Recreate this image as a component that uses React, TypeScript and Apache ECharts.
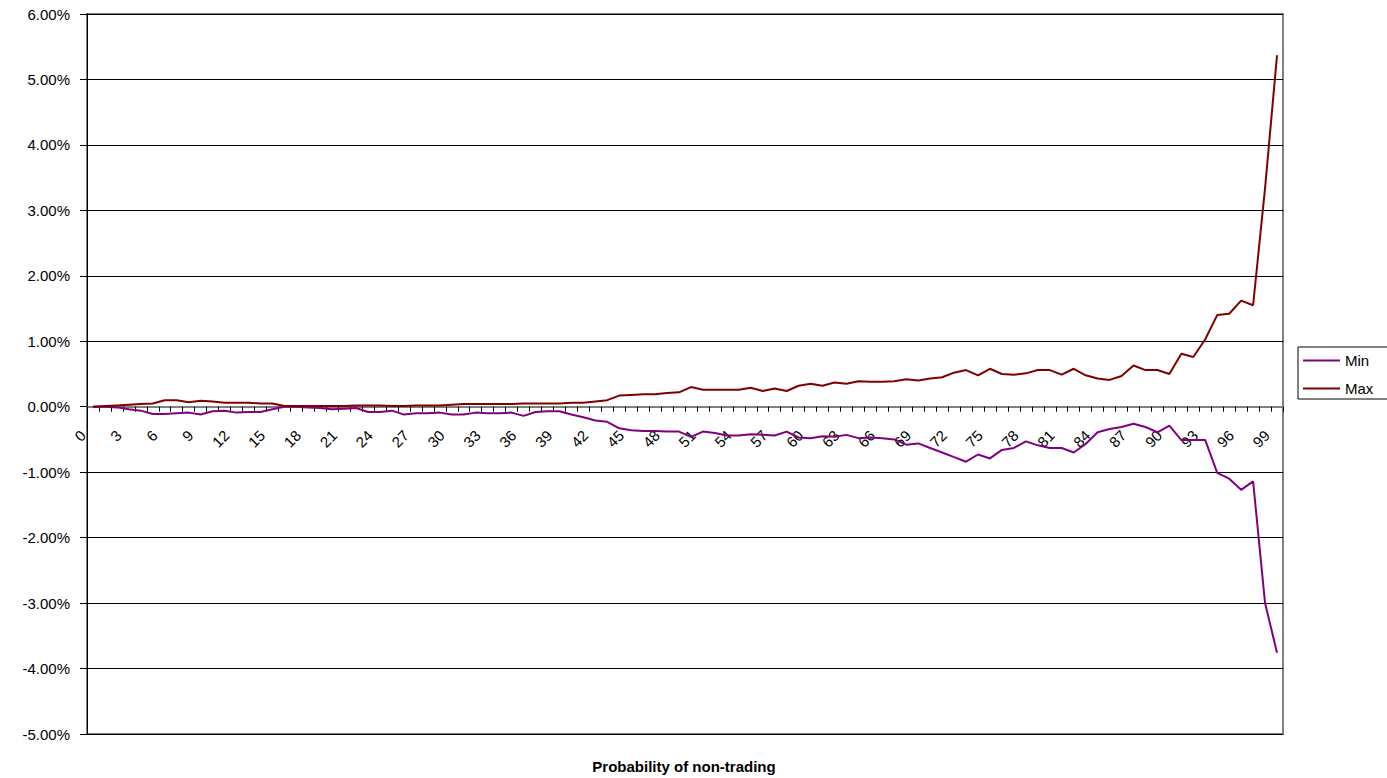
import React, { useEffect, useRef } from "react";
import * as echarts from "echarts";

const categories: string[] = Array.from({ length: 100 }, (_, i) => String(i));

const minValues: number[] = [
  0.0, 0.0, -0.01, -0.04, -0.06, -0.11, -0.11, -0.1, -0.09, -0.12,
  -0.07, -0.06, -0.09, -0.08, -0.08, -0.04, 0.0, 0.0, -0.01, -0.02,
  -0.04, -0.03, -0.02, -0.08, -0.08, -0.06, -0.12, -0.1, -0.1, -0.09,
  -0.12, -0.12, -0.09, -0.1, -0.1, -0.09, -0.14, -0.08, -0.07, -0.07,
  -0.12, -0.16, -0.21, -0.23, -0.33, -0.36, -0.37, -0.37, -0.38, -0.38,
  -0.46, -0.38, -0.4, -0.44, -0.44, -0.42, -0.43, -0.44, -0.38, -0.47,
  -0.48, -0.45, -0.46, -0.43, -0.48, -0.47, -0.48, -0.5, -0.58, -0.56,
  -0.63, -0.7, -0.77, -0.84, -0.73, -0.79, -0.66, -0.63, -0.53, -0.59,
  -0.63, -0.63, -0.7, -0.57, -0.39, -0.34, -0.31, -0.26, -0.31, -0.39,
  -0.29, -0.51, -0.51, -0.51, -1.01, -1.1, -1.27, -1.14, -3.0, -3.76,
];

const maxValues: number[] = [
  0.0, 0.01, 0.02, 0.03, 0.04, 0.05, 0.1, 0.1, 0.07, 0.09,
  0.08, 0.06, 0.06, 0.06, 0.05, 0.05, 0.01, 0.01, 0.01, 0.01,
  0.01, 0.01, 0.02, 0.02, 0.02, 0.01, 0.01, 0.02, 0.02, 0.02,
  0.03, 0.04, 0.04, 0.04, 0.04, 0.04, 0.05, 0.05, 0.05, 0.05,
  0.06, 0.06, 0.08, 0.1, 0.17, 0.18, 0.19, 0.19, 0.21, 0.22,
  0.3, 0.26, 0.26, 0.26, 0.26, 0.29, 0.24, 0.28, 0.24, 0.32,
  0.35, 0.32, 0.37, 0.35, 0.39, 0.38, 0.38, 0.39, 0.42, 0.4,
  0.43, 0.45, 0.52, 0.56, 0.48, 0.58, 0.5, 0.49, 0.51, 0.56,
  0.56, 0.49, 0.58, 0.48, 0.43, 0.41, 0.47, 0.63, 0.56, 0.56,
  0.5, 0.81, 0.76, 1.03, 1.4, 1.42, 1.62, 1.55, 3.34, 5.37,
];

const seriesNames: string[] = ["Min", "Max"];
const xAxisTitle = "Probability of non-trading";
const labelEvery = 3;

const FONT = '"Liberation Sans", Arial, sans-serif';

export default function App() {
  const ref = useRef<HTMLDivElement>(null);

  useEffect(() => {
    if (!ref.current) return;
    const chart = echarts.init(ref.current, undefined, { renderer: "svg" });
    chart.setOption({
      animation: false,
      backgroundColor: "#ffffff",
      grid: {
        left: 87,
        right: 104,
        top: 14,
        bottom: 44,
        show: true,
        borderColor: "#808080",
        borderWidth: 2,
      },
      legend: {
        orient: "vertical",
        left: 1298,
        top: 347,
        data: seriesNames,
        icon: "rect",
        borderColor: "#000",
        borderWidth: 1,
        padding: [6, 40, 3, 5],
        itemGap: 13,
        itemWidth: 37,
        itemHeight: 2,
        textStyle: { fontSize: 15, fontFamily: FONT, color: "#000" },
      },
      xAxis: {
        type: "category",
        data: categories,
        boundaryGap: true,
        axisLine: { onZero: true, lineStyle: { color: "#808080", width: 2 } },
        axisTick: { show: true, interval: 0, length: 5, lineStyle: { color: "#000" } },
        axisLabel: { show: false },
        splitLine: { show: false },
      },
      yAxis: {
        type: "value",
        min: -5,
        max: 6,
        interval: 1,
        axisLine: { show: true, lineStyle: { color: "#000", width: 1 } },
        axisTick: { show: true, length: 7, lineStyle: { color: "#000" } },
        axisLabel: {
          margin: 17,
          fontSize: 15,
          fontFamily: FONT,
          color: "#000",
          formatter: (v: number) => v.toFixed(2) + "%",
        },
        splitLine: { lineStyle: { color: "#000", width: 1 } },
      },
      graphic: [
        {
          type: "text",
          x: 684,
          y: 766,
          style: {
            text: xAxisTitle,
            align: "center",
            verticalAlign: "middle",
            fontSize: 15,
            fontWeight: "bold",
            fontFamily: FONT,
            fill: "#000",
          },
        },
      ],
      series: [
        {
          name: seriesNames[0],
          type: "line",
          data: minValues,
          symbol: "none",
          lineStyle: { color: "#800080", width: 2 },
          itemStyle: { color: "#800080" },
        },
        {
          name: seriesNames[1],
          type: "line",
          data: maxValues,
          symbol: "none",
          lineStyle: { color: "#800000", width: 2 },
          itemStyle: { color: "#800000" },
        },
        {
          name: "xLabels",
          type: "custom",
          silent: true,
          data: categories.map((_, i) => [i, 0]),
          encode: { x: 0, y: 1 },
          renderItem: (params: any, api: any) => {
            const idx = api.value(0);
            if (idx % labelEvery !== 0) return null;
            const pt = api.coord([idx, 0]);
            return {
              type: "text",
              x: pt[0] - 10,
              y: pt[1] + 26,
              rotation: Math.PI / 4,
              style: {
                text: categories[idx],
                align: "right",
                verticalAlign: "middle",
                fontSize: 15,
                fontFamily: FONT,
                fill: "#000",
              },
            };
          },
        },
      ],
    });
    return () => chart.dispose();
  }, []);

  return (
    <div
      ref={ref}
      style={{ position: "absolute", left: 0, top: 0, width: 1387, height: 778 }}
    />
  );
}
